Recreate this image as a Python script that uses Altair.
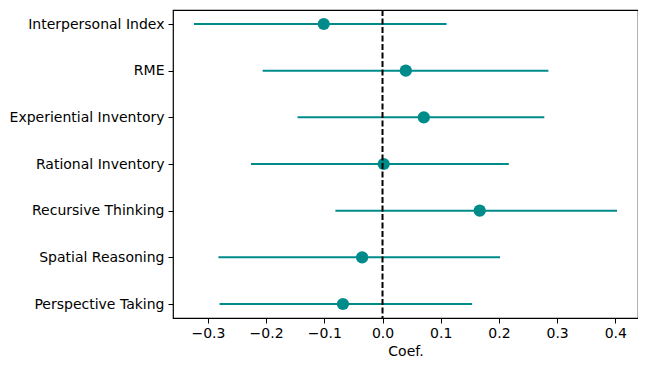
import altair as alt
import pandas as pd

measures = ["Interpersonal Index", "RME", "Experiential Inventory", "Rational Inventory",
            "Recursive Thinking", "Spatial Reasoning", "Perspective Taking"]
coef = [-0.101, 0.040, 0.071, 0.002, 0.167, -0.035, -0.068]
ci_low = [-0.324, -0.206, -0.146, -0.226, -0.081, -0.282, -0.280]
ci_high = [0.110, 0.285, 0.278, 0.217, 0.403, 0.202, 0.154]
x_ticks = [-0.3, -0.2, -0.1, 0.0, 0.1, 0.2, 0.3, 0.4]

df = pd.DataFrame({"measure": measures, "coef": coef, "low": ci_low, "high": ci_high})
zero = pd.DataFrame({"x": [0.0]})

TEAL = "#008b8b"
FONT = "DejaVu Sans"

xscale = alt.Scale(domain=[-0.36, 0.439], nice=False, zero=False)
yscale = alt.Scale(type="point", domain=measures, padding=0.3)

xaxis = alt.Axis(values=x_ticks, format=".1f", title="Coef.", grid=False, domain=False,
                 tickColor="black", tickSize=5, labelPadding=3, labelFontSize=14,
                 titleFontSize=14, titleFontWeight="normal", labelColor="black",
                 titleColor="black", labelFont=FONT, titleFont=FONT, titlePadding=4)
yaxis = alt.Axis(title=None, grid=False, domain=False, tickColor="black", tickSize=5,
                 labelPadding=4, labelFontSize=14, labelColor="black", labelFont=FONT)

base = alt.Chart(df)
bars = base.mark_rule(color=TEAL, strokeWidth=2).encode(
    x=alt.X("low:Q", scale=xscale, axis=xaxis),
    x2="high:Q",
    y=alt.Y("measure:N", scale=yscale, axis=yaxis, sort=measures),
)
dots = base.mark_circle(color=TEAL, opacity=1, size=150).encode(
    x=alt.X("coef:Q", scale=xscale),
    y=alt.Y("measure:N", scale=yscale, sort=measures),
)
vline = alt.Chart(zero).mark_rule(color="black", strokeWidth=2, strokeDash=[6, 2.5]).encode(
    x=alt.X("x:Q", scale=xscale)
)

chart = alt.layer(bars, dots, vline).properties(
    width=465, height=308,
    autosize=alt.AutoSizeParams(type="none"),
    padding={"left": 165, "top": 2, "right": 0, "bottom": 53},
).configure(background="white").configure_view(stroke="black", strokeWidth=1.2)

chart.save("out.html", embed_options={"renderer": "svg", "actions": False})
